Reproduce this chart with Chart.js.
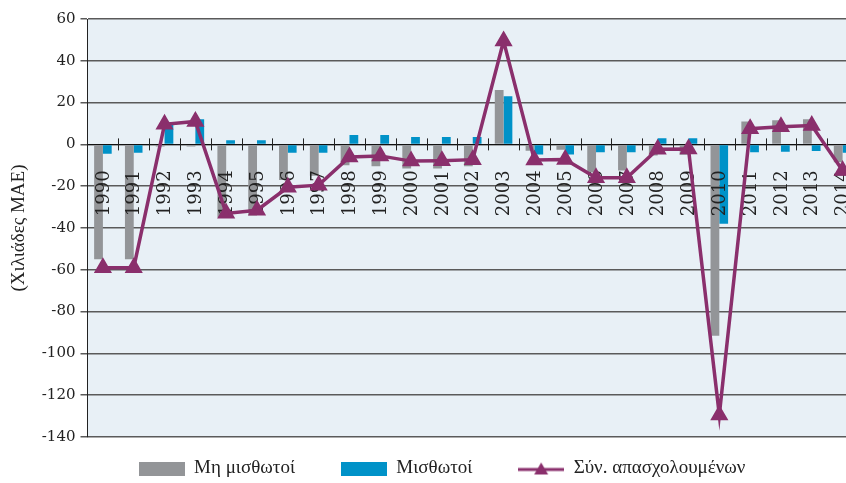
<!DOCTYPE html>
<html>
<head>
<meta charset="utf-8">
<script src="https://cdn.jsdelivr.net/npm/chart.js@4/dist/chart.umd.min.js"></script>
<style>
  html, body { margin: 0; padding: 0; background: #fff; overflow: hidden; }
  #wrap { width: 858px; height: 483px; }
</style>
</head>
<body>
<div id="wrap"><canvas id="myChart" width="858" height="483"></canvas></div>
<script>
// Δεδομένα (τιμές από το γράφημα, χιλιάδες ΜΑΕ)
const years = ['1990', '1991', '1992', '1993', '1994', '1995', '1996', '1997', '1998', '1999',
  '2000', '2001', '2002', '2003', '2004', '2005', '2006', '2007', '2008', '2009',
  '2010', '2011', '2012', '2013', '2014'];
const miMisthotoi = [-55, -55, -1, -1, -35, -34, -17, -15, -10, -10.5,
  -11.5, -11.5, -10.5, 26, -3, -2.5, -13.5, -12.5, -5.3, -5,
  -91.5, 11, 11.5, 12, -8.5];
const misthotoi = [-4.5, -4, 10.5, 12, 2, 2, -4, -4, 4.5, 4.5,
  3.5, 3.5, 3.5, 23, -4.8, -4.8, -3.7, -3.7, 3, 3,
  -38, -3.7, -3.5, -3.2, -4];
const synolo = [-59, -59, 9.6, 11, -33, -31.5, -20.5, -19.5, -6, -5.5,
  -8, -7.8, -7.3, 49.5, -7.5, -7.2, -16, -16, -2.3, -2.2,
  -129.5, 7.5, 8.5, 9, -12.5];
const yTicks = [60, 40, 20, 0, -20, -40, -60, -80, -100, -120, -140];
const seriesNames = ['Μη μισθωτοί', 'Μισθωτοί', 'Σύν. απασχολουμένων'];

const GREY = '#939598';
const BLUE = '#0092c8';
const PURPLE = '#8a2f6c';

function legendIcon(kind, color) {
  const c = document.createElement('canvas');
  c.width = 46;
  c.height = 14;
  const ctx = c.getContext('2d');
  if (kind === 'rect') {
    ctx.fillStyle = color;
    ctx.fillRect(0, 0, 46, 14);
  } else {
    ctx.strokeStyle = color;
    ctx.lineWidth = 3;
    ctx.beginPath();
    ctx.moveTo(0, 8);
    ctx.lineTo(46, 8);
    ctx.stroke();
    ctx.fillStyle = color;
    ctx.beginPath();
    ctx.moveTo(23, 1);
    ctx.lineTo(30, 13);
    ctx.lineTo(16, 13);
    ctx.closePath();
    ctx.fill();
  }
  return c;
}
const icons = [legendIcon('rect', GREY), legendIcon('rect', BLUE), legendIcon('line', PURPLE)];

const plotBg = {
  id: 'plotBg',
  beforeDraw(chart) {
    const { ctx, chartArea } = chart;
    ctx.save();
    ctx.fillStyle = '#e8f0f6';
    ctx.fillRect(chartArea.left, chartArea.top, chartArea.right - chartArea.left, chartArea.bottom - chartArea.top);
    ctx.restore();
  },
  afterDatasetDraw(chart, args) {
    // μετά τις στήλες, πριν τη γραμμή: υποδιαιρέσεις και ετικέτες ετών κάθετα
    if (args.index !== 1) return;
    const { ctx } = chart;
    const x = chart.scales.x;
    const y0 = chart.scales.y.getPixelForValue(0);
    ctx.save();
    ctx.strokeStyle = '#222';
    ctx.lineWidth = 1;
    ctx.beginPath();
    for (let i = 0; i < years.length - 1; i++) {
      const px = Math.round((x.getPixelForValue(i) + x.getPixelForValue(i + 1)) / 2) + 0.5;
      ctx.moveTo(px, y0 - 6);
      ctx.lineTo(px, y0 + 6);
    }
    ctx.stroke();
    ctx.fillStyle = '#222';
    ctx.font = '18px "DejaVu Serif"';
    ctx.textAlign = 'right';
    ctx.textBaseline = 'middle';
    years.forEach((yr, i) => {
      ctx.save();
      ctx.translate(x.getPixelForValue(i) + 1, y0 + 26);
      ctx.rotate(-Math.PI / 2);
      ctx.fillText(yr, 0, 0);
      ctx.restore();
    });
    ctx.restore();
  },
  afterLayout(chart) {
    chart.legend.left += 9;
    chart.legend.right += 9;
  }
};

const config = {
  data: {
    labels: years,
    datasets: [
      {
        type: 'line',
        label: seriesNames[2],
        data: synolo,
        borderColor: PURPLE,
        backgroundColor: PURPLE,
        borderWidth: 3.5,
        pointStyle: 'triangle',
        pointRadius: 7,
        pointHoverRadius: 7,
        tension: 0,
        order: 0
      },
      {
        type: 'bar',
        label: seriesNames[0],
        data: miMisthotoi,
        backgroundColor: GREY,
        categoryPercentage: 0.57,
        barPercentage: 1,
        order: 1
      },
      {
        type: 'bar',
        label: seriesNames[1],
        data: misthotoi,
        backgroundColor: BLUE,
        categoryPercentage: 0.57,
        barPercentage: 1,
        order: 1
      }
    ]
  },
  options: {
    responsive: false,
    animation: false,
    layout: { autoPadding: false, padding: { top: 19, right: 0, left: 8, bottom: -5 } },
    scales: {
      x: {
        position: { y: 0 },
        offset: true,
        grid: { display: false },
        border: { display: true, color: '#111', width: 1 },
        afterFit(scale) {
          scale.paddingLeft = 0;
          scale.paddingRight = 0;
        },
        ticks: { display: false, autoSkip: false }
      },
      y: {
        min: -140,
        max: 60,
        afterBuildTicks(scale) {
          scale.ticks = yTicks.map(v => ({ value: v }));
        },
        grid: { color: '#5a5a5a', lineWidth: 1.5, tickLength: 7, drawTicks: true },
        border: { display: true, color: '#222', width: 1 },
        ticks: {
          padding: 5,
          color: '#222',
          font: { family: 'DejaVu Serif', size: 15 }
        },
        title: {
          display: true,
          text: '(Χιλιάδες ΜΑΕ)',
          color: '#222',
          padding: { top: 0, bottom: 6 },
          font: { family: 'Liberation Serif', size: 19 }
        }
      }
    },
    plugins: {
      tooltip: { enabled: false },
      legend: {
        position: 'bottom',
        labels: {
          usePointStyle: true,
          pointStyleWidth: 46,
          boxHeight: 14,
          padding: 22,
          color: '#222',
          font: { family: 'Liberation Serif', size: 19 },
          generateLabels() {
            return seriesNames.map((n, i) => ({
              // κενά στο τέλος για την απόσταση ανάμεσα στα στοιχεία
              text: i < seriesNames.length - 1 ? n + '     ' : n,
              pointStyle: icons[i],
              fillStyle: 'transparent',
              strokeStyle: 'transparent',
              lineWidth: 0,
              datasetIndex: i,
              fontColor: '#222'
            }));
          }
        }
      }
    }
  },
  plugins: [plotBg]
};

var myChart = new Chart(document.getElementById('myChart'), config);
</script>
</body>
</html>
